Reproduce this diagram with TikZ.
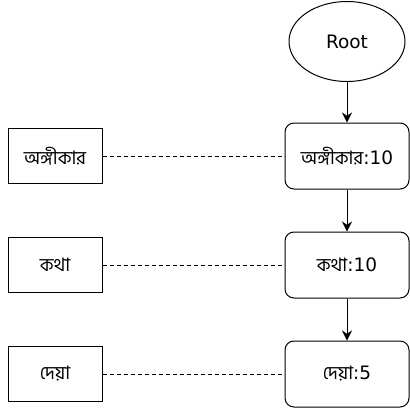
\documentclass[tikz,border=0pt]{standalone}
\usepackage{fontspec}
\setmainfont{DejaVu Sans}
\newfontfamily\bnfont[Script=Bengali]{Hind Siliguri}
\usetikzlibrary{arrows.meta,shapes.geometric}

\begin{document}
\begin{tikzpicture}[x=1pt,y=1pt,node distance=109pt,line width=1pt,>={Stealth[length=10pt,width=10pt]},
    every node/.style={font=\fontsize{18.5}{21}\selectfont},
    count/.style={draw,rounded corners=9pt,minimum width=124pt,minimum height=66pt},
    word/.style={draw,minimum width=94pt,minimum height=55pt},
    link/.style={dash pattern=on 4pt off 3pt}]
    \useasboundingbox (0,0) rectangle (410,-408);
    \node[count]   (c1) at (347,-156)                       {{\bnfont অঙ্গীকার}:10};
    \node[count]   (c2) [below of=c1]                       {{\bnfont কথা}:10};
    \node[count]   (c3) [below of=c2]                       {{\bnfont দেয়া}:5};
    \node[draw,ellipse,minimum width=116pt,minimum height=80pt] (root) [above of=c1,node distance=114.5pt] {Root};
    \node[word]    (w1) [left of=c1,node distance=292pt]    {\bnfont অঙ্গীকার};
    \node[word]    (w2) [left of=c2,node distance=292pt]    {\bnfont কথা};
    \node[word]    (w3) [left of=c3,node distance=292pt]    {\bnfont দেয়া};

    \path[->]   (root)  edge (c1)
                (c1)    edge (c2)
                (c2)    edge (c3)
                ;
    \path[link] (w1)    edge (c1)
                (w2)    edge (c2)
                (w3)    edge (c3)
                ;
\end{tikzpicture}
\end{document}
